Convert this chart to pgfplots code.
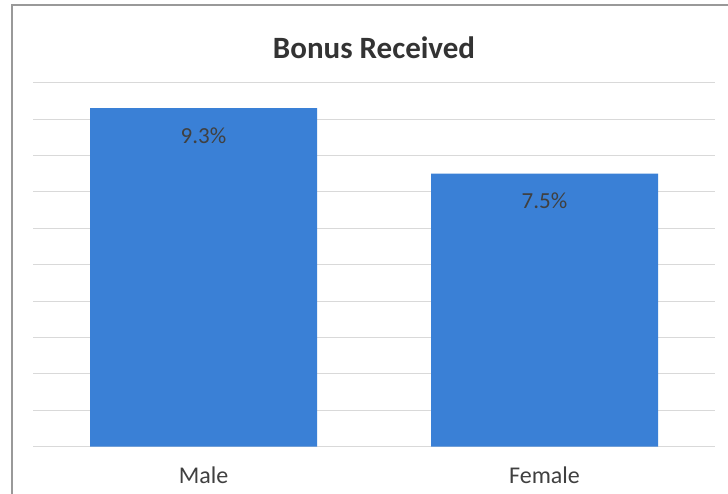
\documentclass[border=0pt]{standalone}
\usepackage{pgfplots}
\pgfplotsset{compat=1.18}
\usepackage{fontspec}
\setmainfont{Carlito}
\definecolor{barblue}{RGB}{58,128,214}
\definecolor{gridgray}{RGB}{217,217,217}
\definecolor{txtgray}{RGB}{64,64,64}
\begin{document}
\begin{tikzpicture}[x=1bp,y=1bp]
\useasboundingbox[fill=white] (0,0) rectangle (728,494);
\draw[color=gray!80, line width=1.5bp] (12,0) -- (12,489) -- (728,489);
\node[font=\fontsize{31bp}{36bp}\selectfont\bfseries, text=txtgray!80!black] at (374,446) {Bonus Received};
\begin{axis}[
  at={(33bp,47.3bp)}, anchor=south west,
  scale only axis, width=682bp, height=364bp,
  xmin=-0.5, xmax=1.5, ymin=0, ymax=10,
  xtick={0,1}, xticklabels={Male,Female},
  ytick={0,1,...,10}, yticklabels={},
  ymajorgrids, grid style={gridgray, line width=0.8bp},
  axis line style={draw=none}, tick style={draw=none},
  /pgf/number format/assume math mode=true,
  xticklabel style={font=\fontsize{24bp}{28bp}\selectfont, text=txtgray, yshift=-12bp},
  ybar, bar width=227bp,
  nodes near coords={\pgfmathprintnumber[fixed,precision=1,fixed zerofill,assume math mode=true]{\pgfplotspointmeta}\%},
  every node near coord/.append style={anchor=north, yshift=-16bp, font=\fontsize{23bp}{27bp}\selectfont, text=txtgray},
]
\addplot[fill=barblue, draw=none] coordinates {(0,9.3) (1,7.5)};
\end{axis}
\end{tikzpicture}
\end{document}
